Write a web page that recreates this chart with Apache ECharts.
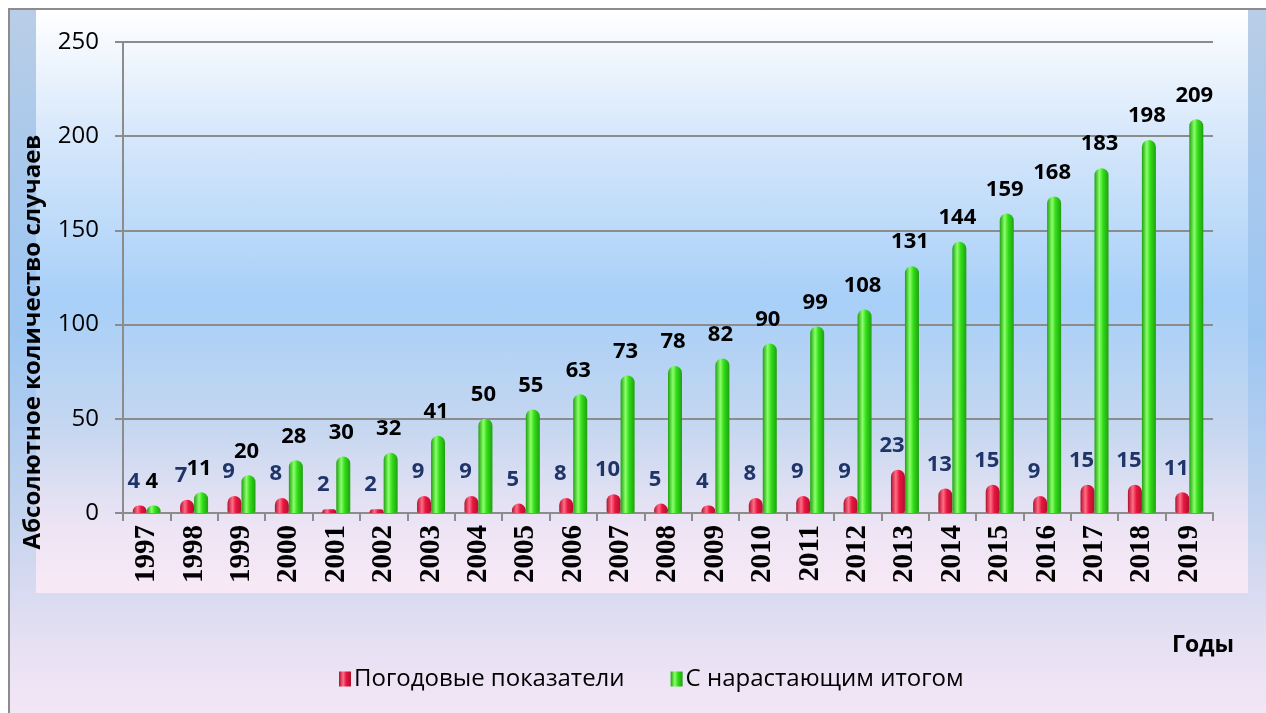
<!DOCTYPE html>
<html>
<head>
<meta charset="utf-8">
<script src="https://cdn.jsdelivr.net/npm/echarts@6/dist/echarts.min.js"></script>
<style>
html,body{margin:0;padding:0;width:1266px;height:713px;overflow:hidden;background:#fff;}
#outer{position:absolute;left:8px;top:8px;width:1270px;height:720px;border-left:2px solid #8c8c8c;border-top:2px solid #8c8c8c;
background:linear-gradient(to bottom,#b9cde6 0%,#a6c8ee 25%,#9cc6f2 45%,#c3d3ee 70%,#e6e0f3 88%,#f6e8f6 100%);}
#inner{position:absolute;left:36px;top:10px;width:1212px;height:583px;
background:linear-gradient(to bottom,#ffffff 0%,#d9e9fb 20%,#a7cff8 50%,#c6d7f0 72%,#ece4f4 88%,#f9e9f6 100%);}
#chart{position:absolute;left:0;top:0;width:1266px;height:713px;}
</style>
</head>
<body>
<div id="outer"></div>
<div id="inner"></div>
<div id="chart"></div>
<script>
const years = ['1997','1998','1999','2000','2001','2002','2003','2004','2005','2006','2007','2008','2009','2010','2011','2012','2013','2014','2015','2016','2017','2018','2019'];
const annual = [4,7,9,8,2,2,9,9,5,8,10,5,4,8,9,9,23,13,15,9,15,15,11];
const cumulative = [4,11,20,28,30,32,41,50,55,63,73,78,82,90,99,108,131,144,159,168,183,198,209];
const seriesNames = ['Погодовые показатели','С нарастающим итогом'];
const yTitle = 'Абсолютное количество случаев';
const xTitle = 'Годы';

const chart = echarts.init(document.getElementById('chart'));
function cyl(dark, mid, light){
  return new echarts.graphic.LinearGradient(0,0,1,0,[
    {offset:0,color:dark},{offset:0.35,color:light},{offset:0.6,color:mid},{offset:1,color:dark}]);
}
chart.setOption({
  backgroundColor:'transparent',
  animation:false,
  grid:{left:123,right:53,top:42,bottom:200,containLabel:false},
  legend:{
    bottom:17,left:334,itemWidth:12,itemHeight:15,itemGap:46,
    icon:'rect',
    textStyle:{fontFamily:'Open Sans',fontSize:24,color:'#000',padding:[0,0,0,-2]},
    data:seriesNames
  },
  graphic:[
    {type:'text',right:32,top:634,style:{text:xTitle,font:'bold 23px "Open Sans"',fill:'#000'}},
    {type:'text',x:33,y:342,rotation:Math.PI/2,style:{text:yTitle,font:'bold 24px "Open Sans"',fill:'#000',align:'center',verticalAlign:'middle'}}
  ],
  xAxis:{
    type:'category',data:years,
    axisLine:{lineStyle:{color:'#8c8c8c',width:2}},
    axisTick:{show:true,length:8,lineStyle:{color:'#8c8c8c',width:2}},
    axisLabel:{rotate:90,interval:0,margin:12,fontFamily:'Liberation Serif',fontWeight:'bold',fontSize:29,color:'#000'}
  },
  yAxis:{
    type:'value',min:0,max:250,interval:50,
    axisLine:{show:true,lineStyle:{color:'#8c8c8c',width:2}},
    axisTick:{show:true,length:8,lineStyle:{color:'#8c8c8c',width:2}},
    axisLabel:{fontFamily:'Open Sans',fontSize:24,color:'#000',margin:24},
    splitLine:{lineStyle:{color:'#8c8c8c',width:2}}
  },
  series:[
    {name:seriesNames[0],type:'bar',data:annual,barWidth:14,barGap:'0%',
     itemStyle:{color:cyl('#b0102e','#e8163f','#ff6d86'),borderRadius:[7,7,2,2]},
     label:{show:true,position:'top',distance:13,offset:[-6,0],fontFamily:'Open Sans',fontWeight:'bold',fontSize:22,color:'#1f3468'}},
    {name:seriesNames[1],type:'bar',data:cumulative,barWidth:14,
     itemStyle:{color:cyl('#1fa010','#33dd1a','#8cff6a'),borderRadius:[7,7,2,2]},
     label:{show:true,position:'top',distance:13,offset:[-2,0],fontFamily:'Open Sans',fontWeight:'bold',fontSize:22,color:'#000'}}
  ]
});
</script>
</body>
</html>
